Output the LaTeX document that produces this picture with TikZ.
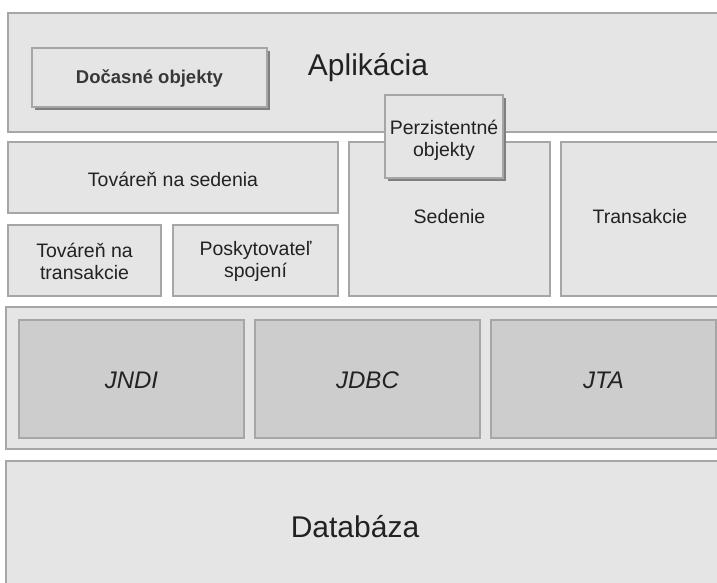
\documentclass[tikz,border=0pt]{standalone}
\usepackage{fontspec}
\setmainfont{Liberation Sans}
\begin{document}
\begin{tikzpicture}[x=1pt,y=-1pt,
  box/.style={draw=boxline,fill=boxfill,line width=1.2pt,inner sep=0pt},
  darkbox/.style={draw=boxline,fill=darkfill,line width=1.2pt,inner sep=0pt},
  txt/.style={text=textcol,align=center,font=\fontsize{19.5}{22}\selectfont},
  bigtxt/.style={txt,font=\fontsize{30}{34}\selectfont},
  apitxt/.style={txt,font=\itshape\fontsize{24}{28}\selectfont}
]
\definecolor{boxline}{HTML}{A6A6A6}
\definecolor{boxfill}{HTML}{E5E5E5}
\definecolor{darkfill}{HTML}{CDCDCD}
\definecolor{shadowcol}{HTML}{7F7F7F}
\definecolor{textcol}{HTML}{222222}
\useasboundingbox (0,0) rectangle (717,582);
\clip (0,0) rectangle (717,582);
\fill[white] (0,0) rectangle (717,582);
% Application layer
\draw[box] (8,13) rectangle (725,132);
\node[bigtxt] (apl) at (368,68) {Aplikácia};
\fill[shadowcol] (35,51) rectangle (270,110);
\draw[box] (32,48) rectangle (267,107);
\node[txt,font=\bfseries\fontsize{18.5}{20}\selectfont,text=textcol!90] (doc) at (149.5,79) {Dočasné objekty};
% Hibernate layer
\draw[box] (8,142) rectangle (338,213);
\node[txt] (tsed) at (173,179) {Továreň na sedenia};
\draw[box] (8,225) rectangle (161,296);
\node[txt] (ttr) at (84.5,261) {Továreň na\\transakcie};
\draw[box] (173,225) rectangle (338,296);
\node[txt] (posk) at (255.5,261) {Poskytovateľ\\spojení};
\draw[box] (349,142) rectangle (550,296);
\node[txt] (sed) at (449.5,217) {Sedenie};
\draw[box] (561,142) rectangle (725,296);
\node[txt] (tran) at (640,217) {Transakcie};
\fill[shadowcol] (388,98) rectangle (506,181);
\draw[box] (385,95) rectangle (503,178);
\node[txt] (perz) at (444,140) {Perzistentné\\objekty};
% API layer
\draw[box] (6,307) rectangle (725,449);
\draw[darkbox] (19,320) rectangle (244,438);
\node[apitxt] (jndi) at (131.5,380) {JNDI};
\draw[darkbox] (255,320) rectangle (480,438);
\node[apitxt] (jdbc) at (367.5,380) {JDBC};
\draw[darkbox] (491,320) rectangle (716,438);
\node[apitxt] (jta) at (603.5,380) {JTA};
% Database
\draw[box] (6,461) rectangle (725,600);
\node[bigtxt] (db) at (355,527) {Databáza};
\end{tikzpicture}
\end{document}
